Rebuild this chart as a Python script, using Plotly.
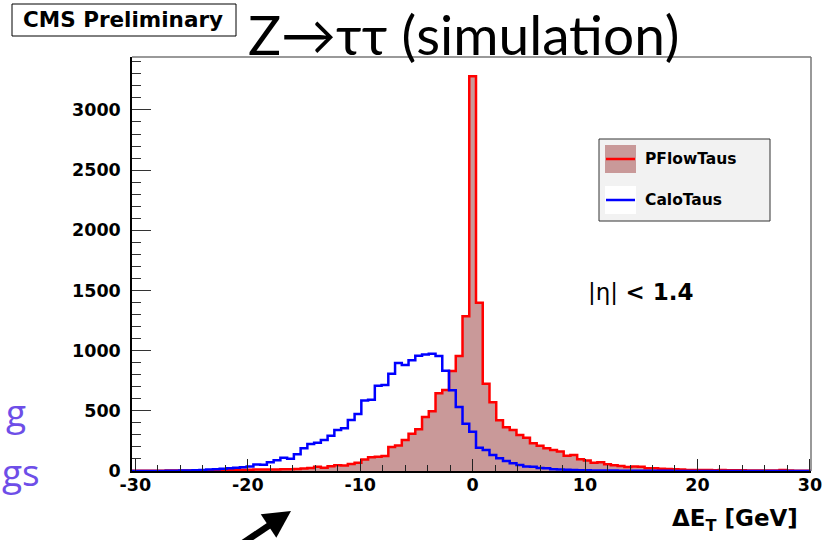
import plotly.graph_objects as go

# ---------------- data ----------------
bin_width = 0.6
bin_index = list(range(-50, 51))  # bin centres = index * bin_width (GeV)

pflow_taus = [
    2,
    2, 2, 3, 3, 4, 4, 5, 5, 6, 6,
    7, 7, 8, 8, 9, 10, 10, 12, 13, 12,
    12, 14, 15, 17, 20, 24, 36, 27, 40, 48,
    45, 58, 68, 95, 114, 118, 125, 200, 212, 258,
    310, 347, 448, 496, 646, 673, 830, 955, 1285, 3280,
    1399, 726, 572, 421, 364, 341, 299, 276, 230, 210,
    188, 175, 163, 126, 133, 97, 88, 68, 72, 56,
    47, 42, 33, 38, 36, 22, 22, 19, 17, 15,
    12, 9, 8, 8, 8, 6, 8, 7, 7, 6,
    5, 5, 4, 5, 4, 8, 4, 3, 3, 3,
]

calo_taus = [
    0,
    0, 1, 1, 1, 2, 3, 4, 5, 7, 9,
    12, 15, 18, 22, 27, 32, 38, 55, 52, 72,
    90, 110, 102, 140, 188, 224, 235, 258, 293, 341,
    355, 424, 474, 586, 592, 709, 715, 808, 898, 881,
    920, 957, 967, 975, 956, 833, 670, 532, 392, 327,
    194, 175, 133, 105, 83, 64, 50, 38, 35, 24,
    22, 14, 12, 10, 8, 7, 6, 5, 5, 4,
    4, 3, 3, 3, 2, 2, 2, 2, 2, 1,
    1, 1, 1, 1, 1, 1, 1, 1, 1, 1,
    0, 0, 0, 0, 0, 0, 0, 0, 0, 0,
]

x_ticks = [-30, -20, -10, 0, 10, 20, 30]
y_ticks = [0, 500, 1000, 1500, 2000, 2500, 3000]

# bin edges for step drawing
centres = [k * bin_width for k in bin_index]
edges = [c - bin_width / 2 for c in centres] + [centres[-1] + bin_width / 2]


def steps(vals):
    return vals + [vals[-1]]


# ---------------- geometry helpers (pixels -> paper) ----------------
W, H = 822, 540
L, R, T, B = 132, 811, 57, 471


def px(x):
    return (x - L) / (R - L)


def py(y):
    return (B - y) / (B - T)


ROOT_FONT = "DejaVu Sans"
SLIDE_FONT = "Lato"

fig = go.Figure()

fig.add_trace(go.Scatter(
    x=edges, y=steps(pflow_taus), mode="lines", line_shape="hv",
    line=dict(color="#ff0000", width=2.5),
    fill="tozeroy", fillcolor="#c99999",
    name="PFlowTaus", showlegend=False, hoverinfo="skip",
))
fig.add_trace(go.Scatter(
    x=edges, y=steps(calo_taus), mode="lines", line_shape="hv",
    line=dict(color="#0000ff", width=2.5),
    name="CaloTaus", showlegend=False, hoverinfo="skip",
))

tickfont = dict(family=ROOT_FONT, size=17.5, color="black", weight="bold")

fig.update_xaxes(
    range=[-30.3, 30.1], tickvals=x_ticks, ticktext=[str(v) for v in x_ticks],
    ticks="inside", ticklen=12, tickwidth=1, tickcolor="#222",
    minor=dict(dtick=2, tick0=0, ticks="inside", ticklen=6, tickcolor="#222"),
    showline=True, linecolor="black", linewidth=1.5, mirror=False,
    showgrid=False, zeroline=False, tickfont=tickfont, ticklabelstandoff=-3,
    ticklabeloverflow="allow", automargin=False,
)
fig.update_yaxes(
    range=[0, 3440], tickvals=y_ticks, ticktext=[str(v) for v in y_ticks],
    ticks="inside", ticklen=19, tickwidth=1, tickcolor="#333",
    minor=dict(dtick=100, tick0=0, ticks="inside", ticklen=9, tickcolor="#333"),
    showline=True, linecolor="black", linewidth=1.5, mirror=False,
    showgrid=False, zeroline=False, tickfont=tickfont, ticklabelstandoff=6,
    ticklabeloverflow="allow", automargin=False,
)


def arrow_head(tip, tail, length, half_w):
    dx, dy = tip[0] - tail[0], tip[1] - tail[1]
    n = (dx * dx + dy * dy) ** 0.5
    ux, uy = dx / n, dy / n
    bx, by = tip[0] - length * ux, tip[1] - length * uy
    pts = [tip, (bx + half_w * uy, by - half_w * ux), (bx - half_w * uy, by + half_w * ux)]
    return "M " + " L ".join(f"{px(x):.5f},{py(y):.5f}" for x, y in pts) + " Z"


arrow_tip, arrow_tail = (291, 511), (240, 545)

shapes = [
    # frame top / right
    dict(type="line", xref="paper", yref="paper", x0=0, x1=1, y0=1, y1=1,
         line=dict(color="#777", width=1.5)),
    dict(type="line", xref="paper", yref="paper", x0=1, x1=1, y0=0, y1=1,
         line=dict(color="#777", width=1.5)),
    # CMS preliminary box
    dict(type="rect", xref="paper", yref="paper", x0=px(12), x1=px(236),
         y0=py(36), y1=py(4), line=dict(color="black", width=1), fillcolor="white"),
    # legend box
    dict(type="rect", xref="paper", yref="paper", x0=px(599), x1=px(770),
         y0=py(221), y1=py(139), line=dict(color="#333", width=1), fillcolor="#f2f2f2"),
    dict(type="rect", xref="paper", yref="paper", x0=px(605), x1=px(636),
         y0=py(173), y1=py(145), line=dict(width=0), fillcolor="#c99999"),
    dict(type="line", xref="paper", yref="paper", x0=px(606), x1=px(635),
         y0=py(159), y1=py(159), line=dict(color="#ff0000", width=2.5)),
    dict(type="rect", xref="paper", yref="paper", x0=px(605), x1=px(636),
         y0=py(214), y1=py(186), line=dict(width=0), fillcolor="white"),
    dict(type="line", xref="paper", yref="paper", x0=px(606), x1=px(635),
         y0=py(200), y1=py(200), line=dict(color="#0000ff", width=2.5)),
    # slide arrow
    dict(type="line", xref="paper", yref="paper", x0=px(arrow_tail[0]), y0=py(arrow_tail[1]),
         x1=px(275), y1=py(521.5), line=dict(color="black", width=6.5)),
    dict(type="path", xref="paper", yref="paper", path=arrow_head(arrow_tip, arrow_tail, 27, 14),
         fillcolor="black", line=dict(width=0)),
]

ann = [
    dict(text="<b>CMS Preliminary</b>", x=px(123), y=py(19), xanchor="center", yanchor="middle",
         font=dict(family=ROOT_FONT, size=21.5, color="black")),
    dict(text="Z\u2192\u03c4\u03c4 (simulation)", x=px(464), y=py(34), xanchor="center", yanchor="middle",
         font=dict(family=SLIDE_FONT, size=55, color="black")),
    dict(text="<b>PFlowTaus</b>", x=px(643), y=py(159), xanchor="left", yanchor="middle",
         font=dict(family=ROOT_FONT, size=15.5, color="black")),
    dict(text="<b>CaloTaus</b>", x=px(643), y=py(200), xanchor="left", yanchor="middle",
         font=dict(family=ROOT_FONT, size=15.5, color="black")),
    dict(text="|\u03b7| <b>&lt; 1.4</b>", x=px(586), y=py(292), xanchor="left", yanchor="middle",
         font=dict(family=ROOT_FONT, size=23, color="black")),
    dict(text="<b>\u0394E<sub>T</sub> [GeV]</b>", x=px(800), y=py(520), xanchor="right", yanchor="middle",
         font=dict(family=ROOT_FONT, size=23, color="black")),
    dict(text="g", x=px(28), y=py(411), xanchor="right", yanchor="middle",
         font=dict(family="Open Sans", size=37, color="#6e4ee8")),
    dict(text="gs", x=px(42), y=py(471), xanchor="right", yanchor="middle",
         font=dict(family="Open Sans", size=37, color="#6e4ee8")),
]
for a in ann:
    a.setdefault("xref", "paper")
    a.setdefault("yref", "paper")
    a.setdefault("showarrow", False)

fig.update_layout(
    width=W, height=H,
    margin=dict(l=L, r=W - R, t=T, b=H - B),
    paper_bgcolor="white", plot_bgcolor="white",
    shapes=shapes, annotations=ann, showlegend=False,
)

fig.write_html("out.html")
